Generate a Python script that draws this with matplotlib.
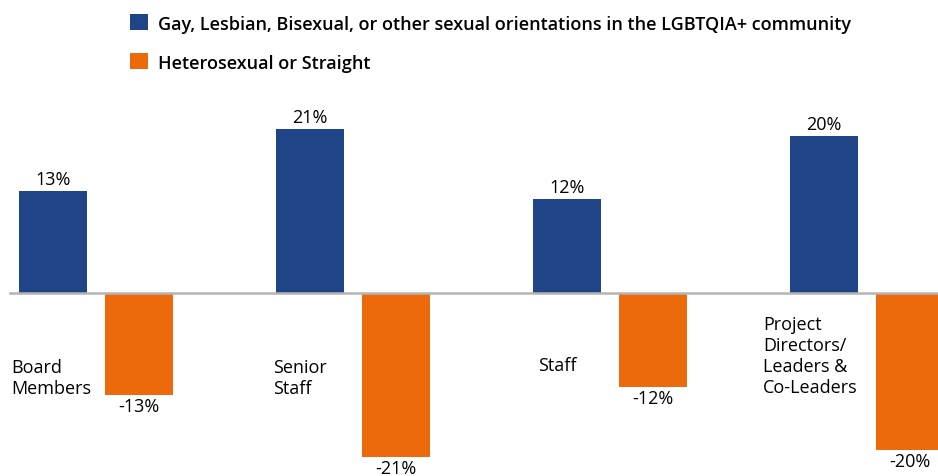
import matplotlib
matplotlib.use("Agg")
import matplotlib.pyplot as plt
from matplotlib.patches import Patch
import numpy as np

categories = ["Board\nMembers", "Senior\nStaff", "Staff", "Project\nDirectors/\nLeaders &\nCo-Leaders"]
lgbtq = [13, 21, 12, 20]
hetero = [-13, -21, -12, -20]
series_names = ["Gay, Lesbian, Bisexual, or other sexual orientations in the LGBTQIA+ community",
                "Heterosexual or Straight"]
colors = ["#1F4488", "#EC6A0C"]

plt.rcParams['font.family'] = ['Open Sans', 'DejaVu Sans']

W, H = 938, 477
fig = plt.figure(figsize=(W / 100, H / 100), dpi=100)
ax = fig.add_axes([0, 0, 1, 1])

x = np.arange(len(categories))
off = 43 / 257
bw = 68 / 257
b1 = ax.bar(x - off, lgbtq, bw, color=colors[0])
b2 = ax.bar(x + off, hetero, bw, color=colors[1])

fs = 13
for rect, v in zip(b1, lgbtq):
    ax.annotate(f"{v}%", (rect.get_x() + rect.get_width() / 2, v), xytext=(0, 5),
                textcoords="offset points", ha="center", va="baseline", fontsize=fs)
for rect, v in zip(b2, hetero):
    ax.annotate(f"{v}%", (rect.get_x() + rect.get_width() / 2, v), xytext=(0, -11.5),
                textcoords="offset points", ha="center", va="baseline", fontsize=fs)

# category labels
label_dx = [-0.33, -0.31, -0.28, -0.405]
label_y = [-10.8, -10.8, -9.2, -8.0]
for i, (c, dx, y) in enumerate(zip(categories, label_dx, label_y)):
    ax.text(i + dx, y, c, ha="left", va="center", fontsize=fs, linespacing=1.2)

ax.axhline(0, xmin=10 / W, xmax=1, color="#B4B4B4", lw=1.8, zorder=3)

ax.set_xlim(-96 / 257, (W - 96) / 257)
ppu = 7.83
ax.set_ylim(-(H - 294) / ppu, 294 / ppu)
ax.axis("off")

handles = [Patch(facecolor=colors[0]), Patch(facecolor=colors[1])]
fig.legend(handles, series_names, loc="upper left", bbox_to_anchor=(114 / W, 1 + 1 / H),
           frameon=False, handlelength=1.0, handleheight=1.0, handletextpad=0.55,
           labelspacing=1.15, prop={"size": 13, "weight": "semibold"})

fig.savefig("out.png", dpi=100)
